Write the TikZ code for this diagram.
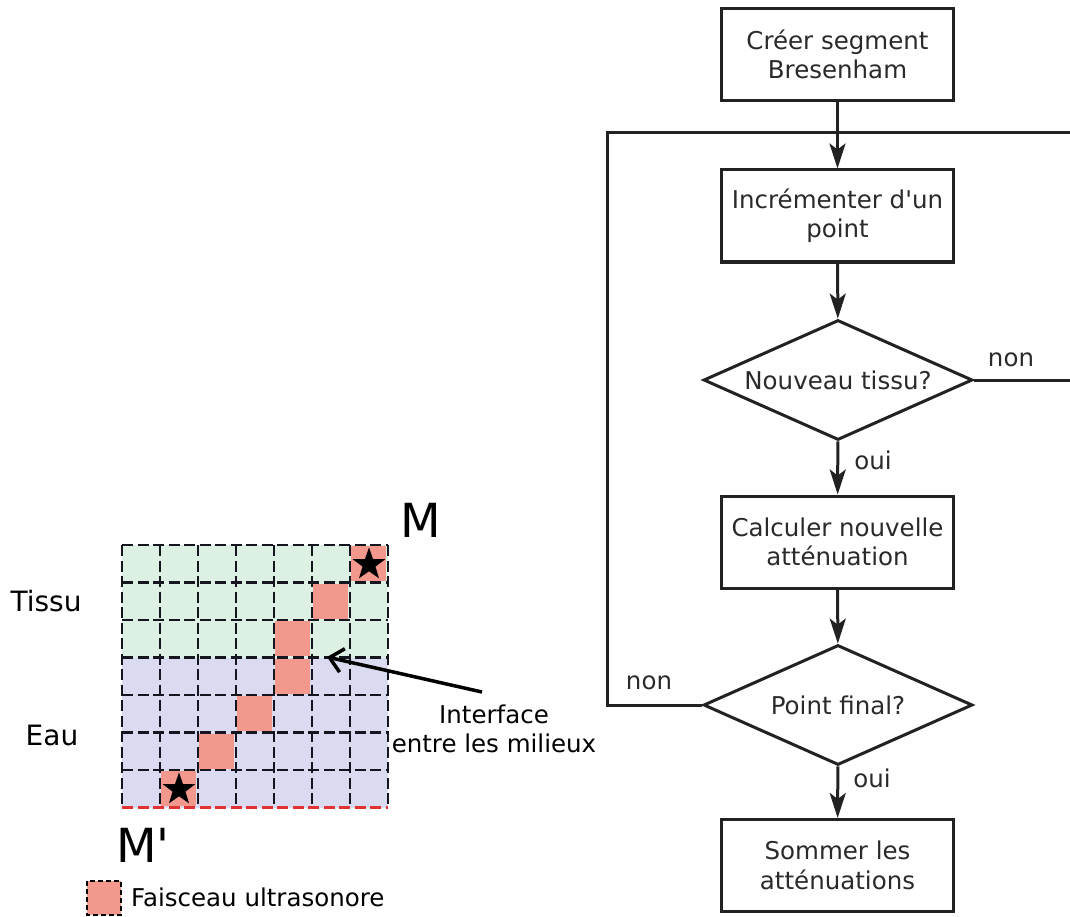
\documentclass[tikz,border=0pt]{standalone}
\usepackage{fontspec}
\setmainfont{DejaVu Sans}[Ligatures=TeXOff]
\usetikzlibrary{shapes.geometric,arrows.meta}
\definecolor{linec}{HTML}{222222}
\definecolor{txtc}{HTML}{2A2A2A}
\definecolor{greenc}{RGB}{221,240,228}
\definecolor{lavc}{RGB}{218,218,240}
\definecolor{pinkc}{RGB}{242,152,140}
\definecolor{redc}{RGB}{225,50,50}
\definecolor{gridc}{HTML}{151520}
\newcommand\flowfont{\fontsize{24.5}{29.5}\selectfont}
\newcommand\sidefont{\fontsize{28}{32}\selectfont}
\newcommand\bigfont{\fontsize{47}{50}\selectfont}
\begin{document}
\begin{tikzpicture}[x=1pt,y=-1pt,
  box/.style={draw=linec, line width=3pt, minimum width=232pt, minimum height=92pt,
    align=center, inner sep=0pt, text=txtc, font=\flowfont, fill=white},
  dec/.style={diamond, aspect=2.24, draw=linec, line width=3pt, minimum width=269pt, minimum height=120pt,
    inner sep=0pt, text=txtc, font=\flowfont, fill=white},
  conn/.style={draw=linec, line width=3pt},
  tip/.style={-{Stealth[length=25pt,width=16pt,inset=6pt]}},
  barb/.style={-{Straight Barb[length=13pt,width=24pt]}},
  lbl/.style={text=txtc, font=\flowfont, inner sep=0pt},
  gridline/.style={draw=gridc, line width=2.5pt, dash pattern=on 11pt off 4.5pt},
  sidelbl/.style={font=\sidefont, inner sep=0pt},
  starmark/.style={star, star points=5, star point ratio=2.5, fill=black, minimum size=34pt, inner sep=0pt}
]
\useasboundingbox (0,0) rectangle (1070,917);

% ---------- grid ----------
\fill[greenc] (122,545) rectangle (388,657.5);
\fill[lavc] (122,657.5) rectangle (388,807.5);
\foreach \c/\r in {6/0,5/1,4/2,4/3,3/4,2/5,1/6}
  \fill[pinkc] ({122+38*\c+1},{545+37.5*\r+1}) rectangle ++(35,35);
\foreach \i in {0,...,7}
  \draw[gridline] ({122+38*\i},545) -- ({122+38*\i},807.5);
\foreach \j in {0,...,6}
  \draw[gridline] (122,{545+37.5*\j}) -- (388,{545+37.5*\j});
\draw[gridline, draw=redc] (122,807.5) -- (388,807.5);
\node[starmark] (s1) at (369,564.5) {};
\node[starmark] (s2) at (179,789.5) {};

\node[font=\bigfont, inner sep=0pt] (M) at (421,520) {M};
\node[font=\bigfont, inner sep=0pt] (Mp) at (143,845) {M'};
\node[sidelbl] (tissu) at (46,601) {Tissu};
\node[sidelbl] (eau) at (52,735) {Eau};

\node[font=\flowfont, align=center, inner sep=0pt] (iface) at (494,729) {Interface\\entre les milieux};
\coordinate (arrT) at (482,692);
\coordinate (arrH) at (327,657);
\draw[line width=3.5pt, black, barb] (arrT) -- (arrH);

% legend
\draw[fill=pinkc, draw=black, line width=2pt, dash pattern=on 5pt off 3pt] (87,881) rectangle (121,915);
\node[font=\flowfont, anchor=west, inner sep=0pt] (leg) at (131,897) {Faisceau ultrasonore};

% ---------- flowchart ----------
\node[box] (b1) at (837.5,54.5) {Créer segment\\Bresenham};
\node[box] (b2) at (837.5,216) {Incrémenter d'un\\point};
\node[dec] (d1) at (838,380) {Nouveau tissu?};
\node[box] (b3) at (837.5,542) {Calculer nouvelle\\atténuation};
\node[dec] (d2) at (838,705) {Point final?};
\node[box] (b4) at (837.5,865.5) {Sommer les\\atténuations};

\coordinate (eR) at (1071,133);
\coordinate (eR2) at (1071,380);
\coordinate (loopL) at (607,705);

\draw[conn] (d2.west) -- (loopL) |- (eR);
\draw[conn, tip] (b1) -- (b2);
\draw[conn, tip] (b2) -- (d1);
\draw[conn, tip] (d1) -- (b3);
\draw[conn, tip] (b3) -- (d2);
\draw[conn, tip] (d2) -- (b4);
\draw[conn] (d1.east) -- (eR2);

\node[lbl] (non1) at (1011,360) {non};
\node[lbl] (oui1) at (873,460) {oui};
\node[lbl] (non2) at (649,683) {non};
\node[lbl] (oui2) at (872,778) {oui};
\end{tikzpicture}
\end{document}
